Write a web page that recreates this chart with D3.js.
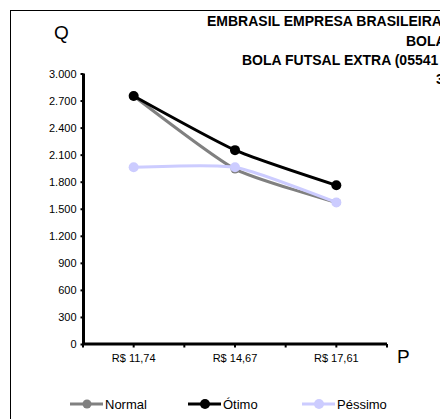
<!DOCTYPE html>
<html>
<head>
<meta charset="utf-8">
<script src="https://cdn.jsdelivr.net/npm/d3@7"></script>
<style>
  html, body { margin: 0; padding: 0; background: #fff; }
  svg { display: block; font-family: "Liberation Sans", Arial, sans-serif; }
</style>
</head>
<body>
<svg id="chart" width="440" height="419"></svg>
<script>
const categories = ['R$ 11,74', 'R$ 14,67', 'R$ 17,61'];
const normal  = [2750, 1940, 1570];
const otimo   = [2750, 2150, 1760];
const pessimo = [1960, 1960, 1570];
const yTicks  = [0, 300, 600, 900, 1200, 1500, 1800, 2100, 2400, 2700, 3000];
const titleLines = ['EMBRASIL EMPRESA BRASILEIRA', 'BOLA', 'BOLA FUTSAL EXTRA (05541', '3'];

const series = [
  { name: 'Normal',  values: normal,  color: '#808080', r: 4.5 },
  { name: 'Ótimo',   values: otimo,   color: '#000000', r: 5 },
  { name: 'Péssimo', values: pessimo, color: '#ccccff', r: 5 }
];

const svg = d3.select('#chart');

// outer chart border (runs off the right and bottom edge)
svg.append('rect').attr('x', 10.5).attr('y', 10.5).attr('width', 460).attr('height', 430)
  .attr('fill', 'none').attr('stroke', '#000').attr('stroke-width', 1);

const x = d3.scaleBand().domain(categories).range([83, 387]);
const y = d3.scaleLinear().domain([0, 3000]).range([344, 73.5]);
const fmt = v => d3.format(',')(v).replace(/,/g, '.');

// y axis
const yAxis = svg.append('g').attr('transform', 'translate(83.5,0)')
  .call(d3.axisLeft(y).tickValues(yTicks).tickFormat(fmt).tickSize(3).tickPadding(4));
yAxis.select('.domain').attr('stroke-width', 3).attr('d', `M0,${y(3000)}V${y(0)}`);
yAxis.selectAll('.tick line').attr('stroke-width', 2);
yAxis.selectAll('.tick text').attr('font-size', 11).attr('font-family', '"Liberation Sans", Arial, sans-serif').attr('fill', '#000');

// x axis: labels at category centres, tick marks at centres and band edges
const xAxis = svg.append('g').attr('transform', 'translate(0,344)')
  .call(d3.axisBottom(x).tickSize(0).tickPadding(10));
xAxis.select('.domain').attr('stroke-width', 3).attr('d', 'M83,0H387');
xAxis.selectAll('.tick text').attr('font-size', 11).attr('font-family', '"Liberation Sans", Arial, sans-serif').attr('fill', '#000');
const tickPos = [x.range()[0]].concat(categories.flatMap(c => [x(c) + x.bandwidth() / 2, x(c) + x.bandwidth()]));
xAxis.selectAll('line.minor').data(tickPos).enter().append('line').attr('class', 'minor')
  .attr('x1', d => d).attr('x2', d => d).attr('y1', 0).attr('y2', 3.5)
  .attr('stroke', '#000').attr('stroke-width', 2);

const cx = c => x(c) + x.bandwidth() / 2;
const line = d3.line().x((d, i) => cx(categories[i])).y(d => y(d)).curve(d3.curveCardinal.tension(0.45));

series.forEach(s => {
  const g = svg.append('g');
  g.append('path').attr('d', line(s.values)).attr('fill', 'none')
    .attr('stroke', s.color).attr('stroke-width', 3).attr('stroke-linejoin', 'round');
  g.selectAll('circle').data(s.values).enter().append('circle')
    .attr('cx', (d, i) => cx(categories[i])).attr('cy', d => y(d)).attr('r', s.r).attr('fill', s.color);
});

// axis letters
svg.append('text').attr('x', 54).attr('y', 39).attr('font-size', 19).text('Q');
svg.append('text').attr('x', 397).attr('y', 363).attr('font-size', 19).text('P');

// title (centred block, clipped by the right edge as in the original)
const titleX = [207, 406, 242, 436];
const titleY = [26, 45.5, 65, 83.5];
svg.selectAll('text.title').data(titleLines).enter().append('text').attr('class', 'title')
  .attr('x', (d, i) => titleX[i]).attr('y', (d, i) => titleY[i])
  .attr('font-size', 14).attr('font-weight', 'bold').text(d => d);

// legend
const legX = [70, 188, 302];
const leg = svg.selectAll('g.leg').data(series).enter().append('g').attr('class', 'leg')
  .attr('transform', (d, i) => `translate(${legX[i]},404)`);
leg.append('line').attr('x1', 0).attr('x2', 33).attr('stroke', d => d.color).attr('stroke-width', 3);
leg.append('circle').attr('cx', 17).attr('r', d => d.r).attr('fill', d => d.color);
leg.append('text').attr('x', 35).attr('y', 4.5).attr('font-size', 13).text(d => d.name);
</script>
</body>
</html>
